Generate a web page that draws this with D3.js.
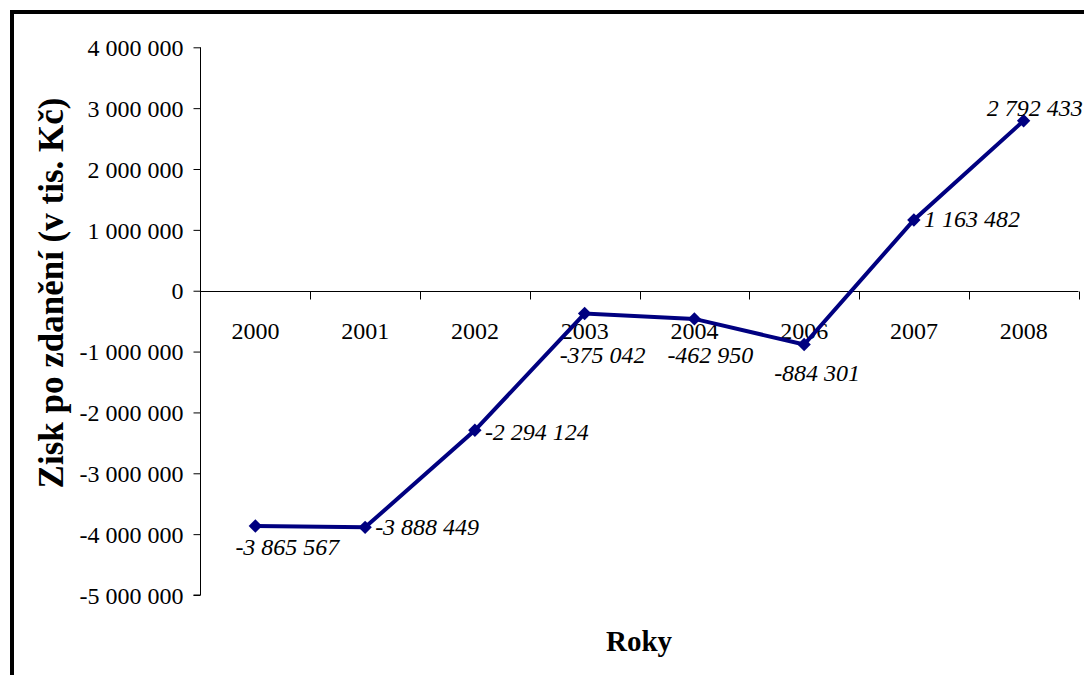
<!DOCTYPE html>
<html>
<head>
<meta charset="utf-8">
<script src="https://cdn.jsdelivr.net/npm/d3@7"></script>
<style>
  html, body { margin: 0; padding: 0; background: #fff; }
  svg { display: block; }
  text { font-family: "Liberation Serif", "Times New Roman", serif; fill: #000; }
</style>
</head>
<body>
<script>
const categories = ["2000", "2001", "2002", "2003", "2004", "2006", "2007", "2008"];
const values = [-3865567, -3888449, -2294124, -375042, -462950, -884301, 1163482, 2792433];
const yTickValues = [4000000, 3000000, 2000000, 1000000, 0, -1000000, -2000000, -3000000, -4000000, -5000000];
const yTitle = "Zisk po zdanění (v tis. Kč)";
const xTitle = "Roky";
// label offsets (px) relative to each point, for manual label placement
const labelOffsets = [[-20, 29], [10, 8], [10, 10], [-25, 49], [-27, 44], [-30, 36], [10, 7], [-37, -5]];

const W = 1084, H = 675;
const svg = d3.select("body").append("svg").attr("width", W).attr("height", H);

// outer frame (thick border top/left)
svg.append("path")
  .attr("d", `M12,${H + 10} L12,12 L${W + 10},12`)
  .attr("fill", "none").attr("stroke", "#000").attr("stroke-width", 4);

const loc = d3.formatLocale({ decimal: ",", thousands: " ", grouping: [3], currency: ["", ""], minus: "-" });
const fmt = loc.format(",d");

const x = d3.scaleBand().domain(categories).range([200.5, 1078.5]).padding(0);
const y = d3.scaleLinear().domain([-5000000, 4000000]).range([595, 47.3]);

// Y axis
const yAxis = svg.append("g")
  .attr("transform", "translate(200.5,0)")
  .call(d3.axisLeft(y).tickValues(yTickValues).tickSize(7).tickPadding(10).tickFormat(fmt));
yAxis.attr("font-family", null).attr("font-size", null);
yAxis.select(".domain").attr("stroke", "#000").attr("d", `M0,${y(4000000)}H0V${y(-5000000)}H-7`);
yAxis.selectAll(".tick line").attr("stroke", "#000");
yAxis.selectAll(".tick text").attr("font-size", 24).attr("dy", "0.34em");

// X axis at zero line
const y0 = Math.round(y(0)) + 0.5;
const xg = svg.append("g");
xg.append("line").attr("x1", 200.5).attr("x2", 1078.5).attr("y1", y0).attr("y2", y0).attr("stroke", "#000");
xg.selectAll("line.tk").data(categories).enter().append("line")
  .attr("class", "tk")
  .attr("x1", d => Math.round(x(d) + x.bandwidth()) + 0.5)
  .attr("x2", d => Math.round(x(d) + x.bandwidth()) + 0.5)
  .attr("y1", y0).attr("y2", y0 + 8).attr("stroke", "#000");
xg.selectAll("text").data(categories).enter().append("text")
  .attr("x", d => x(d) + x.bandwidth() / 2)
  .attr("y", y0 + 47)
  .attr("text-anchor", "middle").attr("font-size", 24)
  .text(d => d);

// line
const pts = categories.map((c, i) => ({ c, v: values[i] }));
const line = d3.line().x(d => x(d.c) + x.bandwidth() / 2).y(d => y(d.v));
svg.append("path").datum(pts)
  .attr("d", line).attr("fill", "none").attr("stroke", "#000080").attr("stroke-width", 4)
  .attr("stroke-linejoin", "miter");

svg.selectAll("path.mk").data(pts).enter().append("path")
  .attr("class", "mk")
  .attr("d", d3.symbol(d3.symbolSquare, 90))
  .attr("fill", "#000080")
  .attr("transform", d => `translate(${x(d.c) + x.bandwidth() / 2},${y(d.v)}) rotate(45)`);

// data labels
svg.selectAll("text.lbl").data(pts).enter().append("text")
  .attr("class", "lbl")
  .attr("x", (d, i) => x(d.c) + x.bandwidth() / 2 + labelOffsets[i][0])
  .attr("y", (d, i) => y(d.v) + labelOffsets[i][1])
  .attr("font-size", 24).attr("font-style", "italic")
  .text(d => fmt(d.v));

// axis titles
svg.append("text")
  .attr("transform", "translate(63,293) rotate(-90)")
  .attr("text-anchor", "middle").attr("font-size", 35).attr("font-weight", "bold")
  .text(yTitle);
svg.append("text")
  .attr("x", 639).attr("y", 651)
  .attr("text-anchor", "middle").attr("font-size", 29).attr("font-weight", "bold")
  .text(xTitle);
</script>
</body>
</html>
